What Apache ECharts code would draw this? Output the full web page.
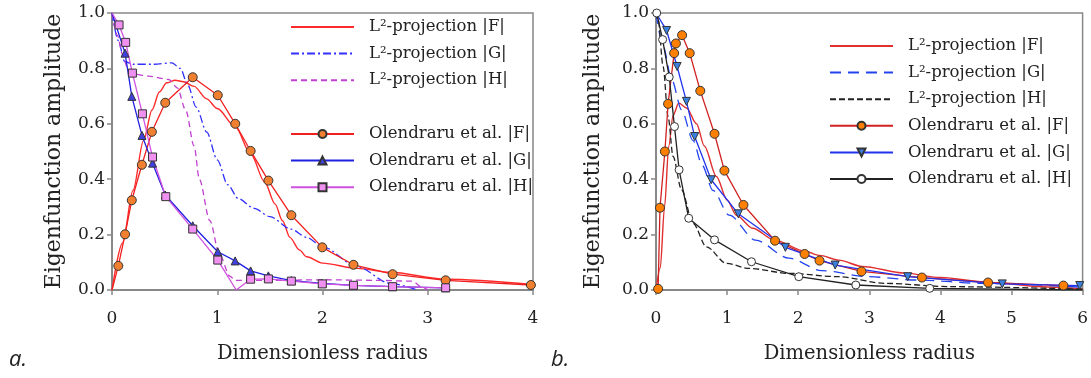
<!DOCTYPE html>
<html><head><meta charset="utf-8">
<script src="https://cdn.jsdelivr.net/npm/echarts@6/dist/echarts.min.js"></script>
<style>html,body{margin:0;padding:0;background:#fff}#c{width:1091px;height:378px}</style>
</head><body><div id="c"></div>
<script>
// ---- Panel a ----
const aL2F = [[0,0],[0.1,0.17],[0.2,0.36],[0.3,0.54],[0.38,0.65],[0.45,0.715],[0.52,0.748],[0.6,0.757],[0.68,0.752],[0.78,0.735],[0.9,0.69],[1.0,0.655],[1.17,0.59],[1.32,0.49],[1.45,0.39],[1.55,0.31],[1.62,0.25],[1.69,0.19],[1.78,0.145],[1.85,0.12],[2.0,0.097],[2.33,0.078],[2.64,0.064],[3.17,0.039],[4.0,0.02]];
const aL2G = [[0,1.0],[0.06,0.9],[0.12,0.825],[0.2,0.815],[0.4,0.815],[0.57,0.82],[0.65,0.8],[0.72,0.74],[0.8,0.66],[0.9,0.57],[1.0,0.47],[1.1,0.38],[1.2,0.33],[1.35,0.295],[1.5,0.265],[1.7,0.22],[1.85,0.19],[2.0,0.156],[2.33,0.084],[2.64,0.024],[2.9,0.0]];
const aL2H = [[0,1.0],[0.05,0.92],[0.1,0.85],[0.15,0.8],[0.2,0.78],[0.35,0.772],[0.54,0.76],[0.62,0.73],[0.7,0.65],[0.78,0.52],[0.83,0.40],[0.93,0.25],[1.02,0.13],[1.12,0.05],[1.17,0.035],[1.5,0.035],[2.0,0.037],[2.5,0.035],[2.85,0.032],[2.95,0.01],[3.0,0.0]];
const aOlF = [[0,0],[0.06,0.087],[0.124,0.201],[0.188,0.324],[0.284,0.452],[0.379,0.571],[0.506,0.676],[0.767,0.768],[1.005,0.703],[1.171,0.600],[1.317,0.502],[1.486,0.395],[1.704,0.270],[1.998,0.154],[2.294,0.091],[2.666,0.057],[3.17,0.035],[3.98,0.018]];
const aOlG = [[0,1],[0.124,0.855],[0.188,0.699],[0.285,0.558],[0.385,0.458],[0.506,0.343],[0.767,0.232],[1.005,0.138],[1.17,0.105],[1.317,0.069],[1.486,0.051],[1.704,0.034],[1.998,0.024],[2.294,0.017],[2.666,0.012],[3.17,0.008]];
const aOlH = [[0,1],[0.067,0.957],[0.13,0.894],[0.194,0.783],[0.289,0.636],[0.385,0.48],[0.511,0.337],[0.767,0.22],[1.005,0.108],[1.18,0.0],[1.317,0.039],[1.486,0.04],[1.704,0.032],[1.998,0.022],[2.294,0.017],[2.666,0.012],[3.17,0.008]];
// ---- Panel b ----
const bL2F = [[0,0],[0.06,0.08],[0.12,0.3],[0.18,0.52],[0.24,0.63],[0.32,0.675],[0.43,0.657],[0.57,0.6],[0.68,0.52],[0.85,0.41],[1.0,0.325],[1.13,0.27],[1.36,0.223],[1.66,0.181],[2.1,0.14],[2.3,0.125],[2.57,0.108],[2.9,0.085],[3.5,0.061],[4.0,0.045],[4.7,0.027],[5.5,0.011],[6.0,0.004]];
const bL2G = [[0,1.0],[0.1,0.88],[0.22,0.76],[0.36,0.65],[0.52,0.54],[0.65,0.45],[0.8,0.36],[1.03,0.27],[1.4,0.18],[1.87,0.115],[2.33,0.07],[2.98,0.048],[3.68,0.036],[4.6,0.024],[6.0,0.01]];
const bL2H = [[0,1.0],[0.03,0.976],[0.1,0.807],[0.17,0.626],[0.24,0.482],[0.36,0.361],[0.52,0.241],[0.71,0.156],[0.99,0.096],[1.31,0.078],[1.87,0.06],[2.57,0.048],[3.22,0.024],[4.15,0.012],[6.0,0.003]];
const bOlF = [[0.03,0.004],[0.056,0.297],[0.125,0.5],[0.17,0.672],[0.255,0.855],[0.28,0.89],[0.367,0.92],[0.474,0.855],[0.623,0.719],[0.823,0.564],[0.962,0.431],[1.23,0.307],[1.674,0.178],[2.09,0.13],[2.30,0.106],[2.89,0.067],[3.74,0.045],[4.67,0.027],[5.73,0.016]];
const bOlG = [[0,1.0],[0.149,0.937],[0.297,0.807],[0.428,0.681],[0.544,0.554],[0.776,0.398],[1.158,0.275],[1.82,0.154],[2.52,0.09],[3.54,0.048],[4.87,0.022],[5.96,0.016]];
const bOlH = [[0.01,1.0],[0.093,0.904],[0.186,0.769],[0.26,0.59],[0.325,0.434],[0.46,0.259],[0.823,0.181],[1.343,0.102],[2.008,0.048],[2.81,0.018],[3.85,0.006],[6.0,0.0]];

const nL2F = 'L²-projection |F|', nL2G = 'L²-projection |G|', nL2H = 'L²-projection |H|';
const nOlF = 'Olendraru et al. |F|', nOlG = 'Olendraru et al. |G|', nOlH = 'Olendraru et al. |H|';
const xTicksA = [0,1,2,3,4], xTicksB = [0,1,2,3,4,5,6];

const SERIF = '"DejaVu Serif", "Liberation Serif", serif';
const AX = '#888';

function sz(base, hidden){ return (v, p) => hidden.includes(p.dataIndex) ? 0 : base; }

function xAxis(gi, tks){
  return {type:'value', gridIndex:gi, min:tks[0], max:tks[tks.length-1], interval:1,
    name:'Dimensionless radius', nameLocation:'middle', nameGap:54,
    nameTextStyle:{fontFamily:SERIF, fontSize:19.5, color:'#222'},
    axisLine:{onZero:false, lineStyle:{color:AX, width:2}},
    axisTick:{show:true, length:5, lineStyle:{color:AX, width:1.5}},
    axisLabel:{fontFamily:SERIF, fontSize:17, color:'#222', margin:20},
    splitLine:{show:false}};
}
function yAxis(gi, gap){
  return {type:'value', gridIndex:gi, min:0, max:1, interval:0.2,
    name:'Eigenfunction amplitude', nameLocation:'middle', nameGap:gap,
    nameTextStyle:{fontFamily:SERIF, fontSize:22, color:'#222'},
    axisLine:{onZero:false, lineStyle:{color:AX, width:2}},
    axisTick:{show:true, length:5, lineStyle:{color:AX, width:1.5}},
    axisLabel:{fontFamily:SERIF, fontSize:17, color:'#222', margin:7, formatter:v=>v.toFixed(1)},
    splitLine:{show:false}};
}
function line(name, data, gi, color, type, width){
  return {name, type:'line', xAxisIndex:gi, yAxisIndex:gi, data, smooth:0.3, smoothMonotone:'x',
    showSymbol:false, symbol:'none', lineStyle:{color, type, width}, itemStyle:{color}, z:2};
}
function marked(name, data, gi, color, sym, fill, size, hidden, rot){
  return {name, type:'line', xAxisIndex:gi, yAxisIndex:gi, data, smooth:false,
    symbol:sym, symbolSize:sz(size, hidden), symbolRotate:rot||0, showAllSymbol:true,
    lineStyle:{color, width:1.3}, itemStyle:{color:fill, borderColor:'#333', borderWidth:1}, z:3};
}
const legText = {fontFamily:SERIF, fontSize:16.5, lineHeight:18, color:'#222', padding:[0,0,0,10]};
const plainLines = [nL2F, nL2G, nL2H];
function legend(names, left, top, prefix){
  return {data:names.map(n => plainLines.includes(n) ? {name:prefix+n, itemStyle:{opacity:0}} : prefix+n),
    left, top, orient:'vertical', itemWidth:63, itemHeight:10,
    itemGap:8.6, selectedMode:false, textStyle:legText, formatter:n=>n.slice(prefix.length)};
}

const option = {
  backgroundColor:'#fff', animation:false,
  grid:[
    {left:112, right:558, top:13, bottom:88, show:true, borderColor:AX, borderWidth:1.5, containLabel:false},
    {left:656, right:5, top:13, bottom:88, show:true, borderColor:AX, borderWidth:1.5, containLabel:false}
  ],
  xAxis:[xAxis(0, xTicksA), xAxis(1, xTicksB)],
  yAxis:[yAxis(0, 47), yAxis(1, 52)],
  legend:[
    legend([nL2F,nL2G,nL2H], 285, 13, 'a:'),
    legend([nOlF,nOlG,nOlH], 285, 120, 'a:'),
    legend([nL2F,nL2G,nL2H,nOlF,nOlG,nOlH], 824, 32, 'b:')
  ],
  graphic:[
    {type:'text', left:9, top:349, style:{text:'a.', font:'italic 22px "Open Sans", sans-serif', fill:'#222'}},
    {type:'text', left:551, top:349, style:{text:'b.', font:'italic 22px "Open Sans", sans-serif', fill:'#222'}}
  ],
  series:[
    line('a:'+nL2F, aL2F, 0, '#ff2a2a', 'solid', 1.4),
    line('a:'+nL2G, aL2G, 0, '#3030ff', [8,3,2,3], 1.3),
    line('a:'+nL2H, aL2H, 0, '#c040d0', [6,4], 1.3),
    marked('a:'+nOlF, aOlF, 0, '#f02020', 'circle', '#f08030', 9, [0]),
    marked('a:'+nOlG, aOlG, 0, '#2020e0', 'triangle', '#4040e0', 8, [0]),
    marked('a:'+nOlH, aOlH, 0, '#d050e0', 'rect', '#f090f0', 8, [0,9]),
    line('b:'+nL2F, bL2F, 1, '#e03030', 'solid', 1.4),
    line('b:'+nL2G, bL2G, 1, '#2244ee', [11,7], 1.3),
    line('b:'+nL2H, bL2H, 1, '#222', [6,3], 1.3),
    marked('b:'+nOlF, bOlF, 1, '#d02020', 'circle', '#ff8000', 9, []),
    marked('b:'+nOlG, bOlG, 1, '#2233ee', 'triangle', '#3a80e0', 8, [0], 180),
    marked('b:'+nOlH, bOlH, 1, '#222', 'circle', '#fff', 8, [11])
  ]
};
echarts.init(document.getElementById('c'), null, {renderer:'canvas'}).setOption(option);
</script></body></html>
